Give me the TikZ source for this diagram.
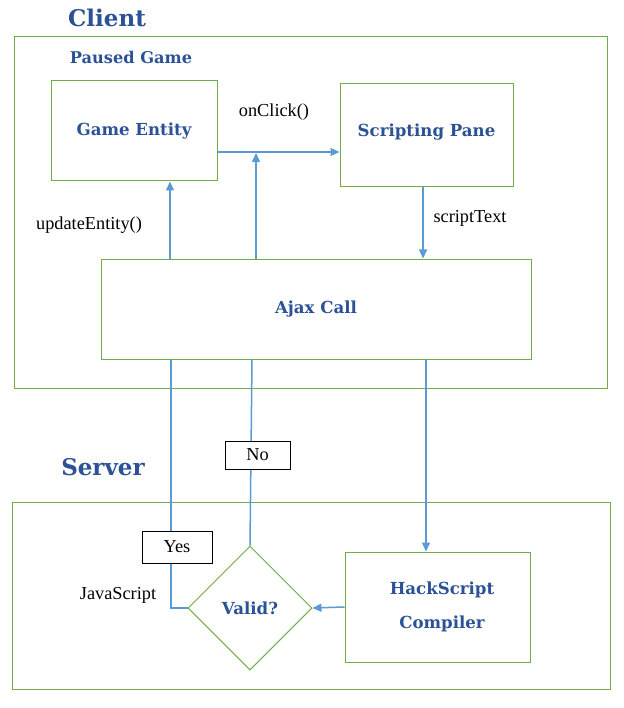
\documentclass[tikz,border=0pt]{standalone}
\usepackage{fontspec}
\setmainfont{Liberation Serif}
\newfontfamily\hdfont{DejaVu Serif}
\usetikzlibrary{arrows.meta,shapes.geometric,calc}
\definecolor{boxgreen}{RGB}{112,173,71}
\definecolor{arrblue}{RGB}{91,155,213}
\definecolor{txtblue}{RGB}{44,82,150}
\tikzset{
  box/.style={draw=boxgreen, line width=1pt, fill=white, inner sep=0pt,
    font=\hdfont\bfseries\fontsize{16.6}{19}\selectfont, text=txtblue},
  container/.style={draw=boxgreen, line width=1pt},
  title/.style={font=\hdfont\bfseries\fontsize{23}{26}\selectfont, text=txtblue, inner sep=0pt},
  subtitle/.style={font=\hdfont\bfseries\fontsize{16.2}{19}\selectfont, text=txtblue, inner sep=0pt},
  lbl/.style={font=\fontsize{18.3}{21}\selectfont, inner sep=0pt},
  tag/.style={draw=black, line width=0.8pt, fill=white, inner sep=0pt, font=\fontsize{18.3}{21}\selectfont},
  arr/.style={draw=arrblue, line width=1.5pt, -{Triangle[length=9pt,width=8pt]}},
  ln/.style={draw=arrblue, line width=1.5pt},
}
\begin{document}
\begin{tikzpicture}[x=1pt,y=-1pt]
\useasboundingbox[fill=white] (0,0) rectangle (623,708);
% containers
\draw[container] (14,37) rectangle (607,388);
\draw[container] (12,502) rectangle (610,689);
\node[title] (client) at (107,18) {Client};
\node[title] (server) at (103,467) {Server};
\node[subtitle] (paused) at (131,57) {Paused Game};
% boxes
\node[box, minimum width=166pt, minimum height=100pt] (ge) at (134,131) {Game Entity};
\node[box, minimum width=173pt, minimum height=103pt] (sp) at (426.5,135.5) {Scripting Pane\rule[-10pt]{0pt}{0pt}};
\node[box, minimum width=430pt, minimum height=100pt] (ajax) at (316,309) {Ajax Call\hspace{30pt}};
\node[box, minimum width=185pt, minimum height=110pt, align=center] (hs) at (437.5,607) {\hspace{9pt}HackScript\\[15pt]\hspace{9pt}Compiler};
\node[box, diamond, minimum width=124pt, minimum height=124pt, aspect=1] (valid) at (250,608) {Valid?};
% coordinates
\coordinate (gy) at (0,152);
\coordinate (oc) at (256,153);
\coordinate (ux) at (170,0);
\coordinate (sx) at (423,0);
\coordinate (hx) at (426,0);
\coordinate (nx) at (252,0);
\coordinate (yx) at (171,0);
% arrows
\draw[arr] (ge.east |- gy) -- (sp.west |- gy);
\draw[arr] (ajax.north -| oc) -- (oc);
\draw[arr] (ajax.north -| ux) -- (ge.south -| ux);
\draw[arr] (sp.south -| sx) -- (ajax.north -| sx);
\draw[arr] (ajax.south -| hx) -- (hs.north -| hx);
\draw[arr] (hs.west) -- (valid.east);
\draw[ln] (valid.north) -- (ajax.south -| nx);
\draw[ln] (valid.west) -- (valid.west -| yx) -- (ajax.south -| yx);
% labels
\node[lbl] (onclick) at (274,112) {onClick()};
\node[lbl] (upd) at (89,225) {updateEntity()};
\node[lbl] (st) at (470,218) {scriptText};
\node[lbl] (js) at (118,595) {JavaScript};
\node[tag, minimum width=65pt, minimum height=28pt] (no) at (257.5,455) {No};
\node[tag, minimum width=70pt, minimum height=32pt] (yes) at (177,547) {Yes};
\end{tikzpicture}
\end{document}
